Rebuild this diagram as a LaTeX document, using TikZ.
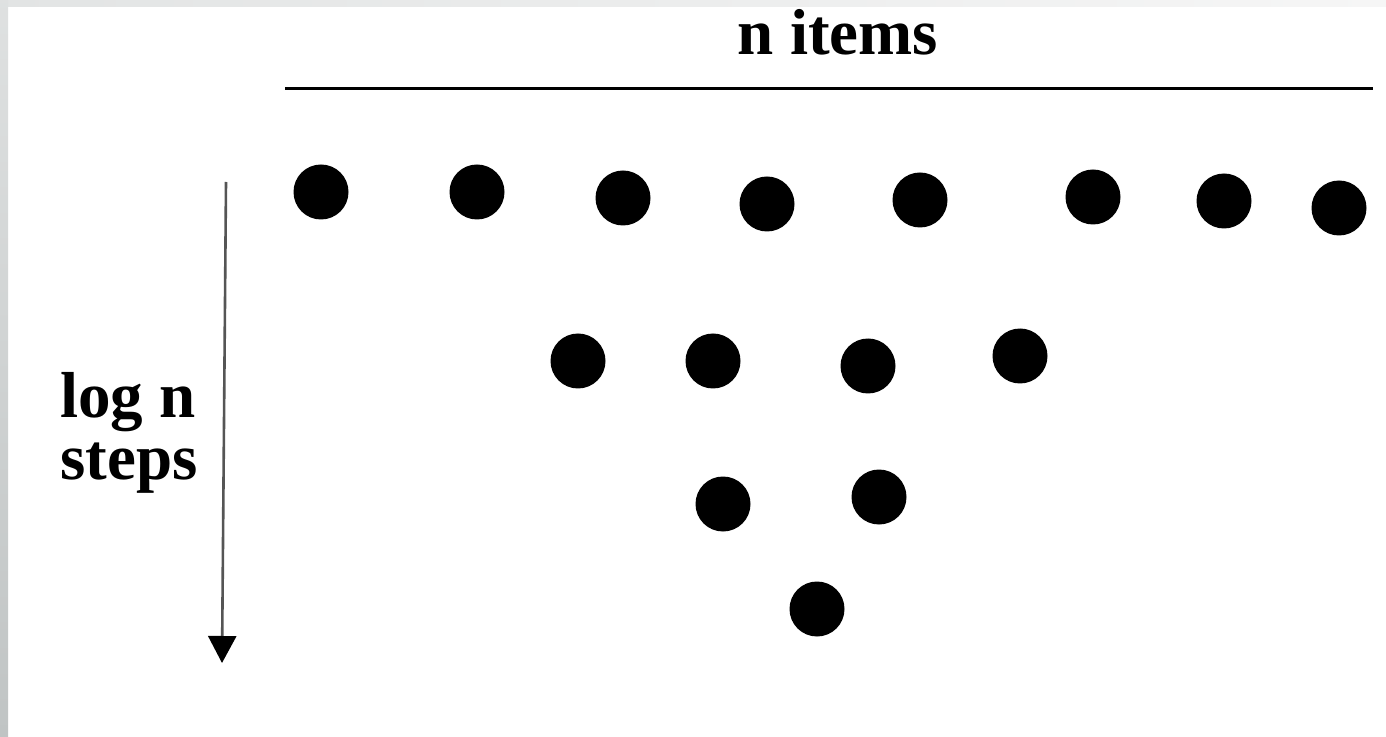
\documentclass[tikz,border=0pt]{standalone}
\usepackage{fontspec}
\setmainfont{Liberation Serif}
\usepackage{tikz}
\usetikzlibrary{arrows.meta,positioning}
\usepackage{xcolor}
\definecolor{bandtop}{HTML}{e2e4e4}
\definecolor{bandend}{HTML}{f6f6f6}
\definecolor{bandlow}{HTML}{c0c4c4}
\definecolor{shaft}{HTML}{555555}

\tikzset{
  item/.style={circle, fill=black, inner sep=0pt, minimum size=27.5pt},
  label text/.style={font=\fontsize{32.5}{31.5}\selectfont\bfseries, inner sep=0pt}
}

\begin{document}
\begin{tikzpicture}[x=0.5pt, y=-0.5pt, >=Latex]
\useasboundingbox (0,0) rectangle (1386,737);
\fill[white] (0,0) rectangle (1386,737);
% grey frame edges
\fill[left color=bandtop, right color=bandend] (0,0) rectangle (1386,7);
\fill[top color=bandtop!90!bandlow, bottom color=bandlow] (0,0) rectangle (8,737);

% labels
\node[label text, anchor=base] (items) at (838,55) {n items};
\node[label text, anchor=base west] (logn) at (60,417) {log n};
\node[label text, anchor=base west] (steps) at (60,480) {steps};

% rule under the label
\coordinate (ruleL) at (285,89);
\coordinate (ruleR) at (1373,89);
\draw[line width=1.5pt] (ruleL) -- (ruleR);

% step arrow
\coordinate (arrowtop) at (226,182);
\coordinate (arrowtip) at (222,663);
\draw[shaft, line width=1.3pt, -{Triangle[width=14pt, length=13.5pt, black]}] (arrowtop) -- (arrowtip);

% items, row by row
\foreach \name/\px/\py in {a1/321/192, a2/477/192, a3/623/198, a4/767/204,
                           a5/920/200, a6/1093/197, a7/1224/201, a8/1339/208,
                           b1/578/361, b2/713/361, b3/868/366, b4/1020/356,
                           c1/723/504, c2/879/497,
                           d1/817/609}
  \node[item] (\name) at (\px,\py) {};
\end{tikzpicture}
\end{document}
